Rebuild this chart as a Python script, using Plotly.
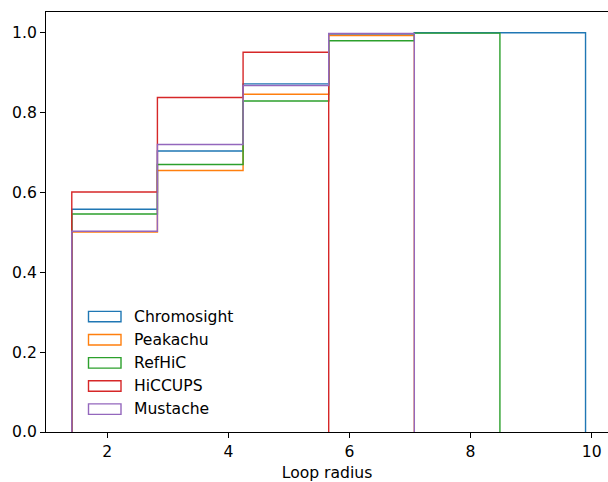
import plotly.graph_objects as go

# Bin edges (loop radius)
bin_edges = [1.414, 2.828, 4.243, 5.657, 7.071, 8.485, 9.899]

series_names = ["Chromosight", "Peakachu", "RefHiC", "HiCCUPS", "Mustache"]
chromosight = [0.558, 0.704, 0.872, 0.997, 1.0, 1.0]
peakachu = [0.501, 0.655, 0.846, 0.993]
refhic = [0.546, 0.670, 0.829, 0.980, 0.999]
hiccups = [0.601, 0.838, 0.951]
mustache = [0.503, 0.720, 0.868, 0.998]

series_values = [chromosight, peakachu, refhic, hiccups, mustache]
colors = ["#1f77b4", "#ff7f0e", "#2ca02c", "#d62728", "#9467bd"]

x_ticks = [2, 4, 6, 8, 10]
y_ticks = [0.0, 0.2, 0.4, 0.6, 0.8, 1.0]

FONT = "DejaVu Sans"
FS = 15.6

fig = go.Figure()
for name, vals, col in zip(series_names, series_values, colors):
    n = len(vals)
    edges = bin_edges[: n + 1]
    xs = [edges[0]] + edges + [edges[-1]]
    ys = [0] + vals + [vals[-1], 0]
    fig.add_trace(go.Scatter(
        x=xs, y=ys, mode="lines", line=dict(color=col, width=1.4, shape="hv"),
        name=name, showlegend=False, hoverinfo="skip",
    ))

# Manual matplotlib-style legend (outlined patches + labels)
W, H = 608, 482
ml, mr, mt, mb = 46, 0, 11.5, 49.5
pw, ph = W - ml - mr, H - mt - mb
def px2paper_x(px):
    return (px - ml) / pw
def px2paper_y(py):
    return (H - mb - py) / ph

leg_x0, leg_x1, leg_text_x = 88.5, 121, 132
leg_y0, leg_dy, patch_h = 316.8, 23.2, 10.5
shapes = []
annotations = []
for i, (name, col) in enumerate(zip(series_names, colors)):
    cy = leg_y0 + i * leg_dy
    shapes.append(dict(
        type="rect", xref="paper", yref="paper",
        x0=px2paper_x(leg_x0), x1=px2paper_x(leg_x1),
        y0=px2paper_y(cy - patch_h / 2), y1=px2paper_y(cy + patch_h / 2),
        line=dict(color=col, width=1.4), fillcolor="rgba(0,0,0,0)",
    ))
    annotations.append(dict(
        xref="paper", yref="paper", x=px2paper_x(leg_text_x), y=px2paper_y(cy),
        text=name, showarrow=False, xanchor="left", yanchor="middle",
        font=dict(family=FONT, size=FS, color="black"),
    ))

fig.update_layout(
    width=W, height=H,
    margin=dict(l=ml, r=mr, t=mt, b=mb, pad=0, autoexpand=False),
    paper_bgcolor="white", plot_bgcolor="white",
    font=dict(family=FONT, size=FS, color="black"),
    shapes=shapes, annotations=annotations,
    showlegend=False,
)
fig.update_xaxes(
    range=[0.988, 10.27], tickvals=x_ticks, ticktext=[str(t) for t in x_ticks],
    showgrid=False, zeroline=False, showline=True, linecolor="black", linewidth=1.1,
    mirror=True, ticks="outside", ticklen=4.9, tickwidth=1.1, tickcolor="black",
    automargin=False,
    title=dict(text="Loop radius", font=dict(family=FONT, size=FS), standoff=9),
)
fig.update_yaxes(
    range=[0, 1.052], tickvals=y_ticks, ticktext=[f"{t:.1f}" for t in y_ticks],
    showgrid=False, zeroline=False, showline=True, linecolor="black", linewidth=1.1,
    mirror=False, ticks="outside", ticklen=4.9, tickwidth=1.1, tickcolor="black",
    automargin=False,
)

fig.write_html(
    "out.html",
    config={"displayModeBar": False},
    post_script="document.body.style.margin='0';document.body.style.overflow='hidden';",
)
